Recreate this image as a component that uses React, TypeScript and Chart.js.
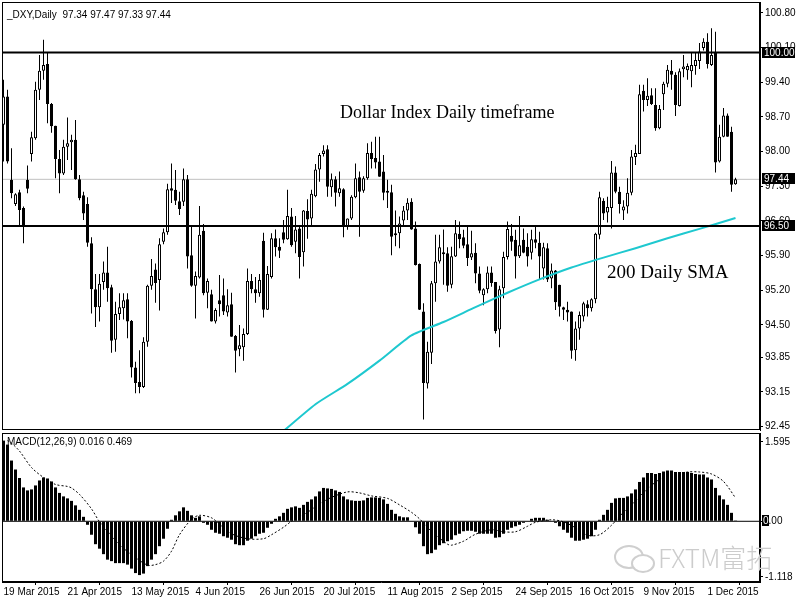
import React, { useEffect, useRef } from 'react';
import { Chart, registerables } from 'chart.js';

Chart.register(...registerables);

// ---------- DATA ----------
const OPEN = [
  98.54, 99.11, 97.43, 96.94, 97.18, 96.86, 97.43, 97.95, 98.27, 99.25,
  99.63, 99.77, 98.96, 98.52, 97.85, 97.56, 98.10, 98.19, 98.24, 97.44,
  97.12, 96.94, 96.15, 95.22, 94.86, 95.37, 95.56, 95.26, 94.20, 94.72,
  94.84, 95.02, 94.58, 93.64, 93.35, 93.25, 94.16, 95.29, 95.62, 95.41,
  96.18, 96.37, 97.26, 97.23, 97.00, 96.99, 97.44, 95.91, 95.29, 95.46,
  96.40, 95.15, 95.12, 94.57, 95.00, 95.10, 94.75, 94.92, 94.28, 94.01,
  94.05, 94.32, 95.39, 95.22, 95.14, 96.20, 94.81, 95.47, 96.25, 96.08,
  96.37, 96.23, 96.69, 96.18, 96.45, 95.97, 96.80, 96.65, 97.10, 97.64,
  97.95, 98.05, 97.28, 97.44, 97.16, 97.24, 96.50, 96.65, 97.08, 97.48,
  97.21, 97.46, 97.97, 97.87, 97.80, 97.60, 97.21, 97.18, 96.31, 96.35,
  96.61, 96.81, 96.99, 96.45, 95.73, 94.77, 93.32, 93.94, 95.34, 95.78,
  95.97, 95.95, 95.31, 95.88, 96.34, 96.27, 96.13, 95.86, 95.96, 95.54,
  95.10, 95.22, 95.56, 95.37, 94.41, 95.24, 95.87, 96.30, 96.22, 95.89,
  96.22, 96.08, 95.96, 96.23, 96.16, 95.64, 96.05, 95.44, 95.60, 95.31,
  94.86, 94.81, 94.77, 93.99, 94.43, 94.67, 94.92, 94.84, 95.02, 96.32,
  97.01, 96.77, 96.86, 97.58, 97.19, 96.81, 96.89, 97.17, 97.89, 97.95,
  99.23, 99.04, 99.14, 98.94, 98.47, 99.16, 99.37, 99.63, 99.55, 98.92,
  99.66, 99.64, 99.62, 99.73, 99.83, 100.09, 100.22, 99.75, 99.99, 97.80,
  98.30, 98.73, 98.40, 97.34,
];
const HIGH = [
  99.45, 99.25, 98.07, 97.16, 97.23, 96.89, 97.72, 98.40, 99.41, 99.95,
  100.26, 99.99, 98.98, 98.52, 98.03, 98.24, 98.69, 98.34, 98.64, 97.53,
  97.19, 97.08, 96.27, 95.53, 95.53, 95.78, 96.08, 95.31, 94.97, 95.14,
  95.14, 95.14, 94.60, 93.76, 93.99, 94.25, 95.31, 95.83, 95.74, 96.25,
  96.45, 97.35, 97.76, 97.63, 97.19, 97.66, 97.53, 96.48, 95.58, 96.90,
  96.54, 95.44, 95.21, 94.84, 95.51, 95.44, 95.22, 95.15, 94.30, 94.50,
  94.43, 95.64, 95.53, 95.47, 95.53, 96.36, 95.69, 96.35, 96.43, 96.25,
  96.62, 97.23, 96.86, 96.70, 96.48, 96.82, 97.04, 97.23, 97.75, 97.97,
  98.13, 98.13, 97.56, 97.50, 97.60, 97.26, 96.65, 97.12, 97.76, 97.60,
  97.50, 98.17, 98.20, 98.30, 98.30, 97.93, 97.43, 97.33, 96.81, 96.69,
  96.90, 97.06, 97.06, 96.59, 95.74, 94.94, 94.16, 95.39, 96.32, 96.32,
  96.43, 96.07, 96.08, 96.62, 96.59, 96.42, 96.48, 96.40, 96.15, 95.68,
  95.24, 95.68, 95.68, 95.37, 95.29, 95.98, 96.59, 96.54, 96.42, 96.70,
  96.45, 96.35, 96.42, 96.48, 96.38, 96.16, 96.15, 95.74, 95.61, 95.31,
  94.87, 94.97, 94.77, 94.57, 94.77, 94.97, 95.00, 95.04, 96.36, 97.19,
  97.06, 97.09, 97.81, 97.70, 97.29, 97.02, 97.46, 98.03, 98.14, 99.35,
  99.35, 99.48, 99.28, 99.28, 98.94, 99.41, 99.75, 99.85, 99.60, 99.68,
  99.95, 99.78, 99.99, 99.99, 100.19, 100.29, 100.39, 100.49, 100.42, 98.54,
  98.88, 98.77, 98.50, 97.47,
];
const LOW = [
  97.80, 97.76, 97.06, 96.90, 96.50, 96.15, 97.16, 97.80, 98.24, 99.04,
  99.45, 98.57, 98.38, 97.46, 97.16, 97.53, 97.83, 97.63, 97.43, 97.02,
  96.62, 96.08, 94.73, 94.46, 94.57, 95.21, 94.97, 93.94, 93.96, 94.60,
  94.61, 94.23, 93.44, 93.12, 93.12, 93.23, 94.06, 95.21, 94.95, 94.79,
  96.13, 96.32, 96.96, 96.92, 96.72, 96.90, 95.64, 95.27, 94.63, 95.44,
  95.10, 94.84, 94.57, 94.53, 94.67, 94.70, 94.67, 94.26, 93.54, 93.87,
  93.78, 94.30, 95.14, 94.95, 95.07, 94.65, 94.80, 95.44, 95.88, 95.85,
  96.15, 96.22, 96.08, 95.95, 95.44, 95.68, 96.24, 96.48, 97.08, 97.39,
  97.90, 97.09, 97.09, 96.89, 97.09, 96.27, 96.42, 96.62, 97.06, 96.28,
  97.17, 97.43, 97.66, 97.66, 97.49, 97.02, 96.86, 95.91, 96.09, 96.05,
  96.52, 96.62, 96.42, 95.70, 94.80, 92.59, 93.22, 93.71, 94.97, 95.74,
  95.31, 95.17, 95.24, 95.87, 96.05, 96.05, 95.69, 95.81, 95.34, 95.14,
  94.90, 95.14, 95.27, 94.33, 94.05, 95.04, 95.82, 96.00, 95.44, 95.85,
  95.95, 95.68, 95.82, 96.05, 95.41, 95.42, 95.37, 95.24, 94.80, 94.67,
  94.60, 94.57, 93.82, 93.78, 94.20, 94.57, 94.67, 94.77, 94.94, 96.23,
  96.62, 96.57, 96.45, 97.16, 96.75, 96.62, 96.75, 97.12, 97.73, 97.95,
  98.81, 98.92, 98.94, 98.42, 98.45, 98.84, 99.30, 99.25, 98.72, 98.91,
  99.50, 99.45, 99.30, 99.55, 99.67, 100.04, 99.68, 99.73, 97.58, 97.78,
  98.29, 98.30, 97.19, 97.33,
];
const CLOSE = [
  99.11, 97.80, 97.16, 97.14, 96.82, 96.50, 97.25, 98.29, 99.25, 99.63,
  99.75, 98.96, 98.51, 97.85, 97.56, 98.10, 98.17, 98.24, 97.44, 97.06,
  96.75, 96.16, 95.22, 94.86, 95.33, 95.56, 95.24, 94.18, 94.72, 94.86,
  95.00, 94.57, 93.64, 93.33, 93.25, 94.16, 95.29, 95.49, 95.35, 96.13,
  96.37, 97.24, 97.21, 97.01, 96.84, 97.44, 95.88, 95.29, 95.49, 96.32,
  95.14, 95.39, 94.57, 94.80, 94.92, 94.77, 94.90, 94.26, 93.98, 94.09,
  94.32, 95.39, 95.22, 95.14, 95.41, 94.81, 95.53, 96.25, 96.07, 96.00,
  96.22, 96.70, 96.11, 96.43, 95.87, 96.81, 96.63, 97.15, 97.64, 97.93,
  98.02, 97.29, 97.44, 97.17, 97.26, 96.50, 96.65, 97.09, 97.46, 97.19,
  97.46, 97.97, 97.85, 97.78, 97.49, 97.17, 97.17, 96.28, 96.35, 96.55,
  96.81, 96.97, 96.43, 95.71, 94.81, 93.33, 93.96, 95.34, 95.78, 96.07,
  95.93, 95.29, 95.89, 96.35, 96.23, 96.10, 95.85, 95.95, 95.54, 95.19,
  95.22, 95.56, 95.35, 94.38, 95.22, 95.87, 96.44, 96.18, 95.88, 96.11,
  95.96, 95.88, 96.23, 96.16, 95.88, 96.07, 95.42, 95.60, 94.96, 94.87,
  94.81, 94.75, 93.98, 94.43, 94.70, 94.94, 94.84, 95.02, 96.34, 97.08,
  96.75, 96.88, 97.58, 97.19, 96.94, 96.89, 97.17, 97.90, 97.97, 99.16,
  99.04, 99.13, 98.96, 98.47, 98.86, 99.37, 99.65, 99.55, 98.94, 99.62,
  99.72, 99.73, 99.75, 99.85, 100.02, 100.22, 99.77, 99.95, 97.78, 98.30,
  98.73, 98.30, 97.33, 97.44,
];

// 200-day SMA, sampled readings: bar index / value
const SMA_X = [68, 78, 86, 94, 102, 110, 118, 126, 134, 142, 150, 158, 166, 174, 183];
const SMA_Y = [92.22, 92.90, 93.31, 93.78, 94.29, 94.56, 94.86, 95.15, 95.42, 95.66, 95.86, 96.05, 96.25, 96.44, 96.66];

// MACD main (histogram) per bar
const MACD = [
  1.62, 1.54, 1.22, 1.04, 0.87, 0.68, 0.62, 0.64, 0.72, 0.82,
  0.88, 0.86, 0.80, 0.68, 0.57, 0.50, 0.46, 0.41, 0.32, 0.23,
  0.09, -0.07, -0.27, -0.46, -0.55, -0.66, -0.77, -0.80, -0.84, -0.84,
  -0.84, -0.87, -0.95, -1.04, -1.08, -1.05, -0.90, -0.77, -0.66, -0.50,
  -0.35, -0.15, 0.03, 0.12, 0.20, 0.28, 0.21, 0.12, 0.07, 0.10,
  -0.03, -0.07, -0.17, -0.23, -0.25, -0.30, -0.33, -0.37, -0.46, -0.48,
  -0.48, -0.39, -0.35, -0.30, -0.25, -0.23, -0.13, -0.05, 0.05, 0.10,
  0.17, 0.25, 0.28, 0.30, 0.27, 0.33, 0.39, 0.44, 0.50, 0.60,
  0.67, 0.66, 0.65, 0.62, 0.59, 0.50, 0.44, 0.42, 0.41, 0.41,
  0.42, 0.47, 0.48, 0.48, 0.47, 0.44, 0.35, 0.23, 0.15, 0.10,
  0.08, 0.08, 0.00, -0.12, -0.25, -0.50, -0.66, -0.64, -0.57, -0.48,
  -0.44, -0.40, -0.37, -0.28, -0.25, -0.20, -0.19, -0.19, -0.21, -0.25,
  -0.25, -0.25, -0.25, -0.33, -0.32, -0.25, -0.17, -0.13, -0.10, -0.07,
  -0.03, -0.01, 0.05, 0.07, 0.07, 0.07, 0.03, -0.01, -0.03, -0.10,
  -0.17, -0.23, -0.33, -0.39, -0.39, -0.37, -0.35, -0.30, -0.17, 0.03,
  0.13, 0.23, 0.37, 0.46, 0.47, 0.47, 0.50, 0.56, 0.64, 0.79,
  0.88, 0.97, 0.97, 0.95, 0.97, 1.00, 1.02, 1.02, 0.99, 0.99,
  0.99, 0.99, 0.97, 0.95, 0.94, 0.94, 0.88, 0.84, 0.67, 0.52,
  0.44, 0.33, 0.17, 0.016,
];

// MACD signal line, sampled readings: bar index / value
const SIG_X = [1, 2, 4, 7, 10, 13, 16, 17, 19, 22, 24, 27, 29, 32, 36, 38, 40, 42, 44, 47, 49, 52, 54, 57, 61, 65, 67, 70, 72, 76, 79, 82, 86, 89, 92, 96, 99, 102, 104, 107, 111, 112, 115, 118, 122, 125, 128, 131, 133, 137, 140, 143, 146, 149, 152, 154, 157, 161, 164, 167, 171, 174, 177, 180, 183];
const SIG_Y = [1.62, 1.57, 1.41, 1.08, 0.88, 0.74, 0.70, 0.67, 0.54, 0.25, -0.01, -0.29, -0.47, -0.67, -0.88, -0.87, -0.80, -0.60, -0.27, 0.04, 0.12, 0.07, -0.06, -0.25, -0.35, -0.35, -0.27, -0.12, 0.0, 0.18, 0.35, 0.48, 0.59, 0.57, 0.51, 0.46, 0.33, 0.18, 0.05, -0.20, -0.46, -0.48, -0.40, -0.26, -0.17, -0.21, -0.21, -0.10, -0.02, 0.03, -0.01, -0.13, -0.28, -0.27, -0.08, 0.10, 0.33, 0.65, 0.84, 0.93, 0.99, 0.99, 0.95, 0.80, 0.47];

const LEVELS = [100.0, 96.5];
const BID = 97.44;
const PRICE_TICKS = [100.8, 100.1, 99.4, 98.7, 98.0, 97.3, 96.6, 95.9, 95.2, 94.5, 93.85, 93.15, 92.45];
const MACD_TICKS = [1.595, 0, -1.118];
const DATE_TICKS = [0, 16, 32, 48, 64, 80, 96, 112, 128, 144, 160, 176];
const DATE_LABELS = ['19 Mar 2015', '21 Apr 2015', '13 May 2015', '4 Jun 2015', '26 Jun 2015', '20 Jul 2015', '11 Aug 2015', '2 Sep 2015', '24 Sep 2015', '16 Oct 2015', '9 Nov 2015', '1 Dec 2015'];

// ---------- layout constants ----------
const X_MIN = -0.375;
const X_MAX = 189.125;
const FONT = '"Liberation Sans", Arial, sans-serif';

const framePlugin = {
  id: 'frame',
  afterDraw(chart: any) {
    const { ctx, chartArea: a } = chart;
    ctx.save();
    ctx.strokeStyle = '#000';
    ctx.lineWidth = 1;
    ctx.strokeRect(Math.round(a.left) + 0.5, Math.round(a.top) + 0.5, Math.round(a.right - a.left) - 1, Math.round(a.bottom - a.top) - 1);
    ctx.restore();
  },
};

const levelLabelPlugin = {
  id: 'levelLabels',
  afterDraw(chart: any, _args: any, opts: any) {
    const { ctx, chartArea, scales } = chart;
    const y = scales.y;
    (opts.levels || []).forEach((v: number) => {
      const py = Math.round(y.getPixelForValue(v));
      ctx.save();
      ctx.fillStyle = '#000';
      ctx.fillRect(chartArea.right + 2, py - 6, 33, 11);
      ctx.fillStyle = '#fff';
      ctx.font = `10px ${FONT}`;
      ctx.textBaseline = 'middle';
      ctx.textAlign = 'left';
      ctx.fillText(v.toFixed(2), chartArea.right + 4, py);
      ctx.restore();
    });
  },
};

// MT4-style zero-level marker on the MACD axis: "0.00" with a small black box on its first digit
const zeroLabelPlugin = {
  id: 'zeroLabel',
  afterDraw(chart: any) {
    const { ctx, chartArea, scales } = chart;
    const py = Math.round(scales.y.getPixelForValue(0));
    const x0 = chartArea.right + 3;
    ctx.save();
    ctx.font = `10px ${FONT}`;
    ctx.textBaseline = 'middle';
    ctx.textAlign = 'left';
    ctx.fillStyle = '#000';
    ctx.fillText('0.00', x0, py);
    ctx.fillRect(x0 - 1, py - 6, 7, 11);
    ctx.fillStyle = '#fff';
    ctx.fillText('0', x0, py);
    ctx.restore();
  },
};

const noPad = (s: any) => {
  s.paddingTop = 0;
  s.paddingBottom = 0;
  s.paddingLeft = 0;
  s.paddingRight = 0;
};

export default function App() {
  const mainRef = useRef<HTMLCanvasElement>(null);
  const macdRef = useRef<HTMLCanvasElement>(null);

  useEffect(() => {
    document.body.style.margin = '0';
    const idx = OPEN.map((_, i) => i);
    const tickFont = { family: FONT, size: 10 };

    const main = new Chart(mainRef.current as HTMLCanvasElement, {
      type: 'bar',
      data: {
        datasets: [
          ...LEVELS.map((lv) => ({
            type: 'line' as const,
            data: [{ x: X_MIN, y: lv }, { x: X_MAX, y: lv }],
            borderColor: '#000',
            borderWidth: 2,
            pointRadius: 0,
          })),
          {
            type: 'line' as const,
            data: SMA_X.map((x, k) => ({ x, y: SMA_Y[k] })),
            borderColor: '#1ec8cf',
            borderWidth: 2,
            pointRadius: 0,
            tension: 0.2,
          },
          {
            type: 'bar' as const,
            data: idx.map((i) => ({ x: i, y: [OPEN[i], CLOSE[i]] })),
            backgroundColor: idx.map((i) => (CLOSE[i] >= OPEN[i] ? '#fff' : '#000')),
            borderColor: '#000',
            borderWidth: 1,
            borderSkipped: false,
            barThickness: 3,
            grouped: false,
            minBarLength: 1,
            inflateAmount: 0,
          },
          {
            type: 'bar' as const,
            data: idx.map((i) => ({ x: i, y: [LOW[i], HIGH[i]] })),
            backgroundColor: '#000',
            borderWidth: 0,
            barThickness: 1,
            grouped: false,
            inflateAmount: 0,
          },
          {
            type: 'line' as const,
            data: [{ x: X_MIN, y: BID }, { x: X_MAX, y: BID }],
            borderColor: '#c0c0c0',
            borderWidth: 1,
            pointRadius: 0,
          },
        ] as any,
      },
      options: {
        responsive: false,
        animation: false,
        devicePixelRatio: 1,
        layout: { padding: { left: 2, top: 2, right: 0, bottom: 2 } },
        plugins: { legend: { display: false }, tooltip: { enabled: false }, levelLabels: { levels: [100.0, BID, 96.5] } } as any,
        scales: {
          x: { type: 'linear', min: X_MIN, max: X_MAX, display: false, offset: false },
          y: {
            position: 'right',
            min: 92.38,
            max: 101.02,
            afterFit: (s: any) => { s.width = 40; noPad(s); },
            afterBuildTicks: (s: any) => { s.ticks = PRICE_TICKS.map((v) => ({ value: v })); },
            ticks: { callback: (v: any) => Number(v).toFixed(2), font: tickFont, color: '#000', padding: 2 },
            grid: { drawOnChartArea: false, tickLength: 3, color: '#000' },
            border: { color: '#000' },
          },
        },
      } as any,
      plugins: [framePlugin, levelLabelPlugin],
    });

    const macd = new Chart(macdRef.current as HTMLCanvasElement, {
      type: 'bar',
      data: {
        datasets: [
          {
            type: 'line' as const,
            data: SIG_X.map((x, k) => ({ x, y: SIG_Y[k] })),
            borderColor: '#000',
            borderWidth: 1,
            borderDash: [2, 2],
            pointRadius: 0,
            tension: 0.3,
          },
          {
            type: 'line' as const,
            data: [{ x: X_MIN, y: 0 }, { x: X_MAX, y: 0 }],
            borderColor: '#000',
            borderWidth: 1,
            pointRadius: 0,
          },
          {
            type: 'bar' as const,
            data: idx.map((i) => ({ x: i, y: MACD[i] })),
            backgroundColor: '#000',
            borderWidth: 0,
            barThickness: 3,
            grouped: false,
            inflateAmount: 0,
          },
        ] as any,
      },
      options: {
        responsive: false,
        animation: false,
        devicePixelRatio: 1,
        layout: { padding: { left: 2, top: 1, right: 0, bottom: 0 } },
        plugins: { legend: { display: false }, tooltip: { enabled: false } },
        scales: {
          x: {
            type: 'linear',
            min: X_MIN,
            max: X_MAX,
            offset: false,
            afterFit: (s: any) => { s.height = 18; noPad(s); },
            afterBuildTicks: (s: any) => { s.ticks = DATE_TICKS.map((v) => ({ value: v })); },
            ticks: {
              callback: (v: any) => DATE_LABELS[DATE_TICKS.indexOf(Number(v))] ?? '',
              align: 'start',
              autoSkip: false,
              maxRotation: 0,
              font: tickFont,
              color: '#000',
              padding: 1,
            },
            grid: { drawOnChartArea: false, tickLength: 3, color: '#000' },
            border: { color: '#000' },
          },
          y: {
            position: 'right',
            min: -1.219,
            max: 1.773,
            afterFit: (s: any) => { s.width = 40; noPad(s); },
            afterBuildTicks: (s: any) => { s.ticks = MACD_TICKS.map((v) => ({ value: v })); },
            ticks: { callback: (v: any) => (Number(v) === 0 ? '' : String(v)), font: tickFont, color: '#000', padding: 2 },
            grid: { drawOnChartArea: false, tickLength: 3, color: '#000' },
            border: { color: '#000' },
          },
        },
      } as any,
      plugins: [framePlugin, zeroLabelPlugin],
    });

    return () => {
      main.destroy();
      macd.destroy();
    };
  }, []);

  const small: React.CSSProperties = { position: 'absolute', fontFamily: FONT, fontSize: 10, lineHeight: '10px', color: '#000', whiteSpace: 'pre' };
  const serif: React.CSSProperties = { position: 'absolute', fontFamily: '"Liberation Serif", "Times New Roman", serif', color: '#000', whiteSpace: 'pre' };

  return (
    <div style={{ position: 'relative', width: 800, height: 600, background: '#fff', overflow: 'hidden' }}>
      <style>{'body{margin:0}'}</style>
      <canvas ref={mainRef} width={800} height={432} style={{ position: 'absolute', left: 0, top: 0 }} />
      <canvas ref={macdRef} width={800} height={168} style={{ position: 'absolute', left: 0, top: 432 }} />
      <div style={{ ...small, left: 7, top: 10 }}>{'_DXY,Daily  97.34 97.47 97.33 97.44'}</div>
      <div style={{ ...small, left: 7, top: 437 }}>{'MACD(12,26,9) 0.016 0.469'}</div>
      <div style={{ ...serif, left: 340, top: 103, fontSize: 18, lineHeight: '18px' }}>Dollar Index Daily timeframe</div>
      <div style={{ ...serif, left: 607, top: 262, fontSize: 19, lineHeight: '19px' }}>200 Daily SMA</div>
      {/* watermark */}
      <div style={{ position: 'absolute', left: 614, top: 545, width: 26, height: 20, border: '2px solid #cfcfcf', borderRadius: '50%' }} />
      <div style={{ position: 'absolute', left: 631, top: 554, width: 20, height: 15, border: '2px solid #cfcfcf', borderRadius: '50%', background: '#fff' }} />
      <div style={{ position: 'absolute', left: 658, top: 542, fontFamily: '"Noto Sans CJK SC", "Noto Sans", sans-serif', fontWeight: 300, fontSize: 26, lineHeight: '30px', color: '#cccccc', whiteSpace: 'pre' }}>FXTM富拓</div>
    </div>
  );
}
